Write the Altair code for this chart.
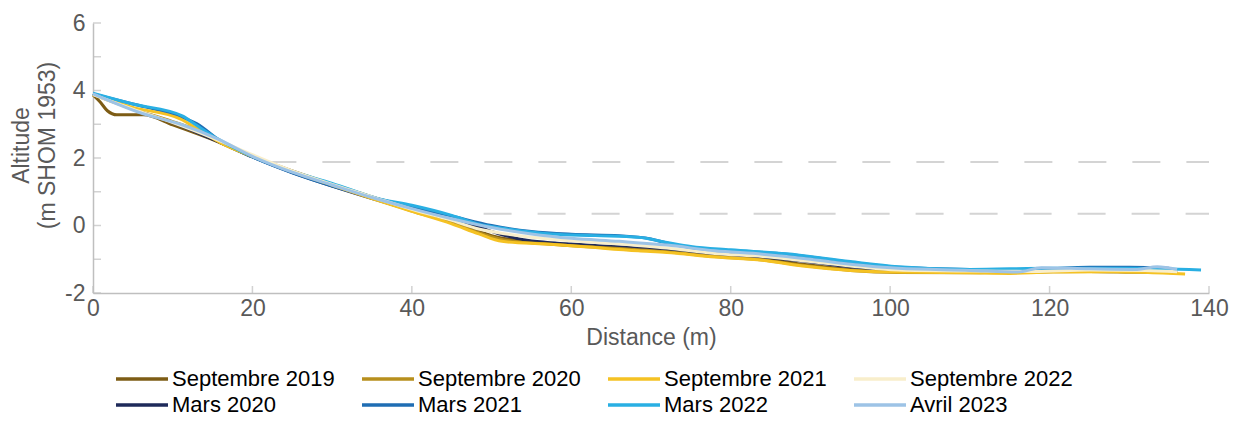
import altair as alt
import pandas as pd

# ---- data ----
series_order = ["Septembre 2019", "Mars 2020", "Septembre 2020", "Mars 2021",
                "Septembre 2021", "Mars 2022", "Septembre 2022", "Avril 2023"]
legend_order = ["Septembre 2019", "Septembre 2020", "Septembre 2021", "Septembre 2022",
                "Mars 2020", "Mars 2021", "Mars 2022", "Avril 2023"]
legend_colors = ["#7d5c15", "#b78f1d", "#f5c223", "#f8eecb",
                 "#1e2a5a", "#1f6db3", "#29afe3", "#9dc3e6"]

sep2019_x = [0, 0.9, 1.8, 3, 6.3, 10, 16, 20, 25, 30, 35, 40, 45, 50, 55, 60, 66, 72, 78, 84, 89, 95, 101, 110, 118, 125, 132, 136]
sep2019_y = [3.87, 3.66, 3.4, 3.28, 3.28, 2.98, 2.45, 2.05, 1.62, 1.22, 0.85, 0.47, 0.12, -0.3, -0.5, -0.58, -0.66, -0.76, -0.88, -0.98, -1.15, -1.3, -1.37, -1.38, -1.37, -1.36, -1.38, -1.38]

mar2020_x = [0, 5, 10, 16, 20, 25, 30, 35, 40, 45, 48, 51, 54, 57, 60, 66, 72, 78, 84, 90, 95, 101, 110, 118, 125, 132, 136]
mar2020_y = [3.9, 3.45, 3.05, 2.45, 2.03, 1.57, 1.17, 0.8, 0.45, 0.15, -0.02, -0.25, -0.42, -0.5, -0.55, -0.63, -0.72, -0.84, -0.93, -1.08, -1.22, -1.33, -1.36, -1.33, -1.3, -1.32, -1.35]

sep2020_x = [0, 5, 10, 13, 16, 20, 25, 30, 35, 40, 45, 48, 51, 54, 57, 60, 66, 72, 78, 84, 89, 95, 101, 110, 118, 125, 132, 136]
sep2020_y = [3.88, 3.45, 3.08, 2.82, 2.47, 2.05, 1.6, 1.2, 0.82, 0.43, 0.08, -0.18, -0.4, -0.5, -0.55, -0.6, -0.68, -0.78, -0.92, -1.02, -1.18, -1.33, -1.39, -1.4, -1.38, -1.36, -1.38, -1.4]

mar2021_x = [0, 5, 10, 13, 16, 20, 25, 30, 35, 40, 45, 50, 55, 60, 66, 70, 72, 75, 80, 87, 95, 101, 110, 118, 125, 130, 135]
mar2021_y = [3.9, 3.6, 3.3, 3.02, 2.5, 2.03, 1.56, 1.17, 0.84, 0.55, 0.28, 0.0, -0.18, -0.26, -0.3, -0.4, -0.52, -0.66, -0.75, -0.85, -1.09, -1.24, -1.3, -1.3, -1.24, -1.24, -1.27]

sep2021_x = [0, 5, 11, 13, 16, 20, 25, 30, 35, 40, 45, 48.4, 51.3, 56.7, 60, 68.4, 72, 78, 84, 89, 95, 101, 110, 115, 120, 128, 137]
sep2021_y = [3.88, 3.5, 3.15, 2.88, 2.45, 2.05, 1.6, 1.2, 0.8, 0.42, 0.05, -0.25, -0.47, -0.55, -0.6, -0.75, -0.8, -0.93, -1.03, -1.2, -1.33, -1.38, -1.4, -1.42, -1.38, -1.37, -1.44]

mar2022_x = [0, 5, 11.2, 12.8, 15.7, 20, 25, 30, 35.9, 40, 45, 48.4, 52, 57.5, 63, 68.4, 72, 75, 80, 87, 95, 101, 110, 120, 130, 139]
mar2022_y = [3.92, 3.6, 3.25, 3.0, 2.56, 2.05, 1.6, 1.25, 0.79, 0.6, 0.3, 0.04, -0.1, -0.25, -0.3, -0.35, -0.5, -0.62, -0.72, -0.84, -1.07, -1.22, -1.3, -1.27, -1.27, -1.32]

sep2022_x = [0, 5, 10, 16, 20, 25, 30, 35, 40, 45, 48, 51, 55, 60, 66, 72, 78, 84, 90, 95, 101, 110, 118, 125, 132, 136]
sep2022_y = [3.88, 3.45, 3.05, 2.5, 2.1, 1.62, 1.22, 0.85, 0.48, 0.15, -0.08, -0.22, -0.35, -0.45, -0.55, -0.67, -0.83, -0.92, -1.07, -1.2, -1.32, -1.35, -1.36, -1.32, -1.33, -1.37]

avr2023_x = [0, 6.3, 11, 15.7, 20, 25, 30, 35, 40, 45, 50, 55, 60, 66, 72, 78, 84, 90, 95, 101, 110, 116, 119, 125, 131, 133.5, 136]
avr2023_y = [3.9, 3.31, 3.0, 2.56, 2.05, 1.58, 1.2, 0.83, 0.5, 0.2, -0.06, -0.25, -0.38, -0.47, -0.58, -0.75, -0.85, -1.0, -1.15, -1.27, -1.33, -1.38, -1.25, -1.28, -1.3, -1.22, -1.3]

level_y = [1.88, 0.35]
level_x_start = [22, 49]
level_x_end = [140, 140]

x_ticks = [0, 20, 40, 60, 80, 100, 120, 140]
y_ticks = [-2, -1, 0, 1, 2, 3, 4, 5, 6]

# ---- build tables ----
pairs = {
    "Septembre 2019": (sep2019_x, sep2019_y),
    "Mars 2020": (mar2020_x, mar2020_y),
    "Septembre 2020": (sep2020_x, sep2020_y),
    "Mars 2021": (mar2021_x, mar2021_y),
    "Septembre 2021": (sep2021_x, sep2021_y),
    "Mars 2022": (mar2022_x, mar2022_y),
    "Septembre 2022": (sep2022_x, sep2022_y),
    "Avril 2023": (avr2023_x, avr2023_y),
}
rows = []
for k, name in enumerate(series_order):
    xs, ys = pairs[name]
    for i, (x, y) in enumerate(zip(xs, ys)):
        rows.append({"serie": name, "rank": k, "i": i, "dist": x, "alt": y})
df = pd.DataFrame(rows)

levels = pd.DataFrame({"y": level_y, "x": level_x_start, "x2": level_x_end})
xt = pd.DataFrame({"v": x_ticks})
yt = pd.DataFrame({"v": y_ticks})

FONT = "Liberation Sans"
GREY = "#595959"
AXC = "#bfbfbf"

xscale = alt.Scale(domain=[0, 140], nice=False, zero=False)
yscale = alt.Scale(domain=[-2, 6], nice=False, zero=False)

xaxis = alt.Axis(values=x_ticks, ticks=False, grid=False, domainColor=AXC, domainWidth=1.5,
                 labelFont=FONT, labelFontSize=23, labelColor=GREY, labelPadding=4,
                 labelOverlap=False, labelFlush=False,
                 title="Distance (m)", titleFont=FONT, titleFontSize=23, titleFontWeight="normal",
                 titleColor=GREY, titlePadding=6)
yaxis = alt.Axis(values=y_ticks, ticks=False, grid=False, domainColor=AXC, domainWidth=1.5,
                 labelFont=FONT, labelFontSize=23, labelColor=GREY, labelPadding=8,
                 labelOverlap=False, labelFlush=False, labelSeparation=0,
                 labelExpr="toString(datum.value)",
                 title=["Altitude", "(m SHOM 1953)"], titleFont=FONT, titleFontSize=23,
                 titleFontWeight="normal", titleColor=GREY, titlePadding=5, titleLineHeight=26,
                 titleY=122)

X = lambda f: alt.X(f, scale=xscale, axis=xaxis)
Y = lambda f: alt.Y(f, scale=yscale, axis=yaxis)

rules = alt.Chart(levels).mark_rule(color="#d4d4d4", strokeWidth=2, strokeDash=[28, 26]).encode(
    x=X("x:Q"), x2="x2:Q", y=Y("y:Q"),
)

lines = alt.Chart(df).mark_line(strokeWidth=3, interpolate="monotone").encode(
    x=X("dist:Q"),
    y=Y("alt:Q"),
    color=alt.Color("serie:N", scale=alt.Scale(domain=legend_order, range=legend_colors),
                    legend=alt.Legend(title=None, orient="none", legendX=34, legendY=341,
                                      direction="horizontal", columns=4, padding=0,
                                      symbolType="M-2,0H2", symbolSize=676,
                                      symbolStrokeWidth=3.5, labelFont=FONT, labelFontSize=22,
                                      labelColor="black", labelOffset=15, columnPadding=20,
                                      rowPadding=-3, labelLimit=400)),
    detail="rank:O",
    order="i:Q",
)

xticks = alt.Chart(xt).mark_tick(orient="vertical", size=7, thickness=1.5, color=AXC, yOffset=-3.5).encode(
    x=X("v:Q"), y=alt.datum(-2))
yticks = alt.Chart(yt).mark_tick(orient="horizontal", size=8, thickness=1.5, color=AXC, xOffset=4).encode(
    y=Y("v:Q"), x=alt.datum(0))

chart = alt.layer(rules, xticks, yticks, lines).properties(
    width=1116, height=270,
    autosize=alt.AutoSizeParams(type="none"),
    padding={"left": 85, "top": 15, "right": 30, "bottom": 122},
).configure_view(stroke=None)

chart.save("out.html", embed_options={"renderer": "svg", "actions": False})
